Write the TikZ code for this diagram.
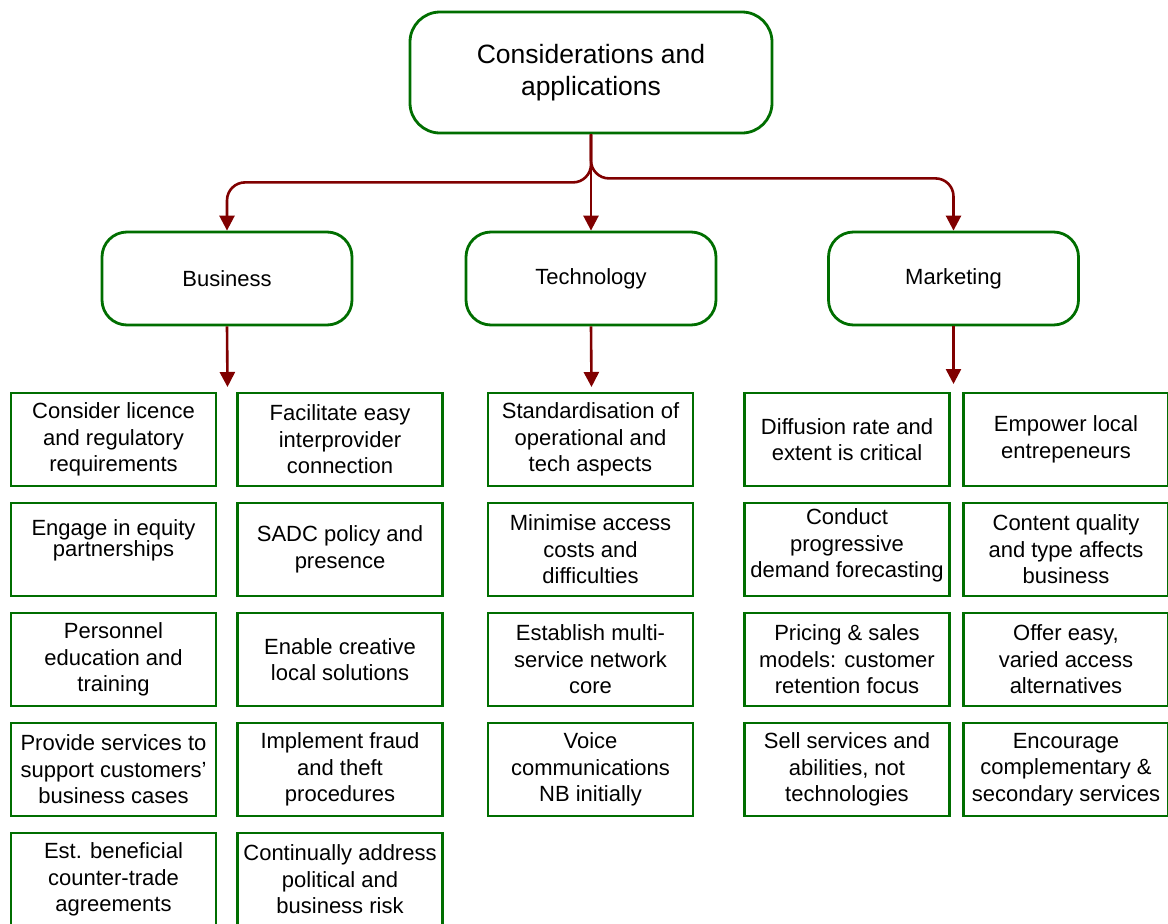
\documentclass[tikz,border=0pt]{standalone}
\usepackage{fontspec}
\setmainfont{Liberation Sans}
\usetikzlibrary{arrows.meta}
\definecolor{boxgreen}{RGB}{0,110,0}
\definecolor{linkred}{RGB}{128,0,0}
\tikzset{
  rootbox/.style={draw=boxgreen, line width=2.8pt, rounded corners=30pt,
    minimum width=362pt, minimum height=121pt, align=center,
    font=\fontsize{26.5}{32}\selectfont},
  areabox/.style={draw=boxgreen, line width=2.8pt, rounded corners=25pt,
    minimum width=250pt, minimum height=93pt, align=center,
    font=\fontsize{22}{26.5}\selectfont},
  leaf/.style={draw=boxgreen, line width=2.8pt, minimum width=205pt,
    minimum height=93pt, inner sep=0pt, align=center,
    font=\fontsize{22}{26.5}\selectfont},
  leaftext/.style={inner sep=0pt, align=center,
    font=\fontsize{22}{26.5}\selectfont},
  link/.style={draw=linkred, line width=2.6pt,
    -{Triangle[width=15pt,length=15pt]}},
}
\begin{document}
\begin{tikzpicture}[x=1pt,y=-1pt]
\useasboundingbox (0,0) rectangle (1168,924);

% top and second level
\node[rootbox] (root) at (591,72.5) {Considerations and\\applications};
\node[areabox] (bus) at (227,278.5) {Business};
\node[areabox] (tech) at (591,278.5) {Technology};
\node[areabox] (mkt) at (953.5,278.5) {Marketing};

% branching links
\draw[link] (root.south) -- (tech.north);
\draw[link, rounded corners=18pt] (root.south) -- ++(0,48) -| (bus.north);
\draw[link, rounded corners=18pt] (root.south) -- ++(0,44) -| (mkt.north);

\coordinate (busend) at (227.5,387);
\coordinate (techend) at (591.5,387);
\coordinate (mktend) at (953.5,384);
\draw[link] (bus.south) -- (busend);
\draw[link] (tech.south) -- (techend);
\draw[link] (mkt.south) -- (mktend);

% Business, left column
\node[leaf] (b1l) at (113.5,439.5) {Consider licence\\and regulatory\\requirements};
\node[leaf] (b2l) at (113.5,549.5) {};
\node[leaftext, yshift=9pt] (b2lt) at (b2l) {Engage in equity\\[-5.5pt]partnerships};
\node[leaf] (b3l) at (113.5,659.5) {Personnel\\education and\\training};
\node[leaf] (b4l) at (113.5,769.5) {Provide services to\\support customers’\\business cases};
\node[leaf] (b5l) at (113.5,879.5) {Est. beneficial\\counter-trade\\agreements};

% Business, right column
\node[leaf] (b1r) at (340,439.5) {Facilitate easy\\interprovider\\connection};
\node[leaf] (b2r) at (340,549.5) {SADC policy and\\presence};
\node[leaf] (b3r) at (340,659.5) {Enable creative\\local solutions};
\node[leaf] (b4r) at (340,769.5) {Implement fraud\\and theft\\procedures};
\node[leaf] (b5r) at (340,879.5) {Continually address\\political and\\business risk};

% Technology
\node[leaf] (t1) at (590.5,439.5) {Standardisation of\\operational and\\tech aspects};
\node[leaf] (t2) at (590.5,549.5) {Minimise access\\costs and\\difficulties};
\node[leaf] (t3) at (590.5,659.5) {Establish multi-\\service network\\core};
\node[leaf] (t4) at (590.5,769.5) {Voice\\communications\\NB initially};

% Marketing, left column
\node[leaf] (m1l) at (847,439.5) {Diffusion rate and\\extent is critical};
\node[leaf] (m2l) at (847,549.5) {};
\node[leaftext, yshift=4pt] (m2lt) at (m2l) {Conduct\\progressive\\demand forecasting};
\node[leaf] (m3l) at (847,659.5) {Pricing \& sales\\models: customer\\retention focus};
\node[leaf] (m4l) at (847,769.5) {Sell services and\\abilities, not\\technologies};

% Marketing, right column
\node[leaf] (m1r) at (1066,439.5) {Empower local\\entrepeneurs};
\node[leaf] (m2r) at (1066,549.5) {Content quality\\and type affects\\business};
\node[leaf] (m3r) at (1066,659.5) {Offer easy,\\varied access\\alternatives};
\node[leaf] (m4r) at (1066,769.5) {Encourage\\complementary \&\\secondary services};
\end{tikzpicture}
\end{document}
